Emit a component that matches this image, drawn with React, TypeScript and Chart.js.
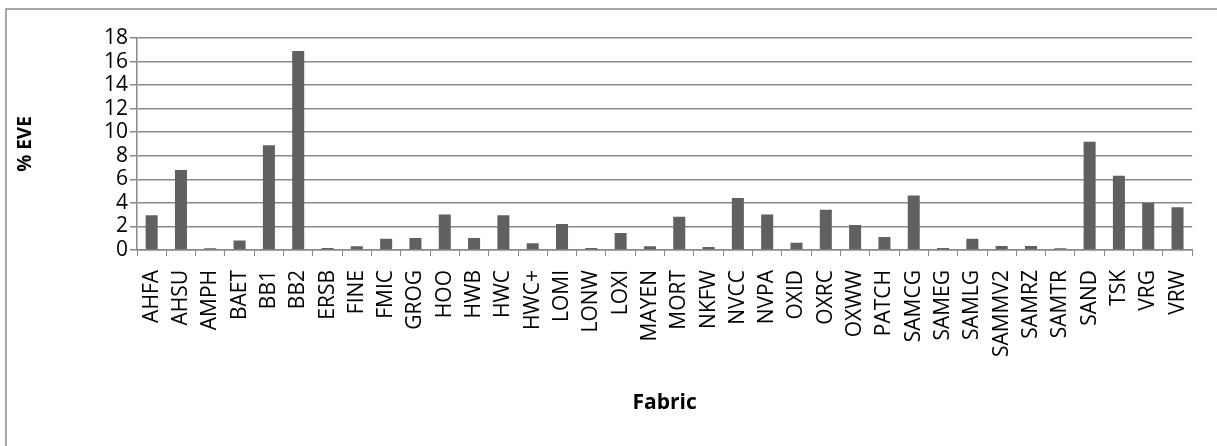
import React, { useEffect, useRef } from "react";
import { Chart, registerables } from "chart.js";

Chart.register(...registerables);

const categories = [
  "AHFA", "AHSU", "AMPH", "BAET", "BB1", "BB2", "ERSB", "FINE", "FMIC", "GROG",
  "HOO", "HWB", "HWC", "HWC+", "LOMI", "LONW", "LOXI", "MAYEN", "MORT", "NKFW",
  "NVCC", "NVPA", "OXID", "OXRC", "OXWW", "PATCH", "SAMCG", "SAMEG", "SAMLG",
  "SAMMV2", "SAMRZ", "SAMTR", "SAND", "TSK", "VRG", "VRW",
];

const eveValues = [
  2.95, 6.8, 0.15, 0.8, 8.9, 16.9, 0.17, 0.31, 0.95, 1.02,
  3.02, 1.02, 2.95, 0.57, 2.2, 0.17, 1.44, 0.31, 2.82, 0.25,
  4.42, 3.02, 0.62, 3.42, 2.12, 1.1, 4.62, 0.17, 0.95,
  0.34, 0.34, 0.14, 9.2, 6.3, 3.98, 3.64,
];

const yTicks = [0, 2, 4, 6, 8, 10, 12, 14, 16, 18];

const FONT = "'Open Sans', 'Liberation Sans', sans-serif";
const GRID = "#898989";

const framePlugin = {
  id: "frame",
  afterDraw(chart: any) {
    const ctx = chart.ctx;
    ctx.save();
    ctx.strokeStyle = "#8c8c8c";
    ctx.lineWidth = 1.5;
    ctx.beginPath();
    ctx.moveTo(6, 446);
    ctx.lineTo(6, 9);
    ctx.lineTo(1217, 9);
    ctx.stroke();
    ctx.restore();
  },
};

export default function App() {
  const ref = useRef<HTMLCanvasElement | null>(null);

  useEffect(() => {
    document.body.style.margin = "0";
    const canvas = ref.current;
    if (!canvas) return;
    const chart = new Chart(canvas, {
      type: "bar",
      data: {
        labels: categories,
        datasets: [
          {
            label: "% EVE",
            data: eveValues,
            backgroundColor: "#606060",
            borderWidth: 0,
            categoryPercentage: 1,
            barPercentage: 0.41,
          },
        ],
      },
      options: {
        responsive: false,
        animation: false,
        devicePixelRatio: 1,
        layout: { padding: { left: 6, top: 38, right: 19, bottom: 30 } },
        plugins: {
          legend: { display: false },
          tooltip: { enabled: false },
        },
        scales: {
          x: {
            afterFit: (s: any) => {
              s.height = 166;
            },
            grid: {
              display: true,
              drawOnChartArea: false,
              drawTicks: true,
              tickLength: 6,
              color: GRID,
              offset: true,
            },
            border: { display: true, color: GRID, width: 1.5 },
            ticks: {
              autoSkip: false,
              minRotation: 90,
              maxRotation: 90,
              padding: 14,
              color: "#000",
              font: { family: FONT, size: 21 },
            },
            title: {
              display: true,
              text: "Fabric",
              color: "#000",
              padding: { top: 0, bottom: 0 },
              font: { family: FONT, size: 21, weight: "bold", lineHeight: 1.2 },
            },
          },
          y: {
            min: 0,
            max: 18,
            afterFit: (s: any) => {
              s.width = 131;
            },
            afterBuildTicks: (s: any) => {
              s.ticks = yTicks.map((v) => ({ value: v }));
            },
            grid: {
              color: GRID,
              lineWidth: 1.5,
              tickLength: 7,
              drawTicks: true,
            },
            border: { display: true, color: GRID, width: 1.5 },
            ticks: {
              autoSkip: false,
              padding: 2,
              color: "#000",
              font: { family: FONT, size: 21 },
            },
            title: {
              display: true,
              text: "% EVE",
              color: "#000",
              padding: { top: 8, bottom: 0 },
              font: { family: FONT, size: 19, weight: "bold", lineHeight: 1.2 },
            },
          },
        },
      },
      plugins: [framePlugin],
    });
    return () => chart.destroy();
  }, []);

  return (
    <div style={{ width: 1217, height: 446, background: "#fff" }}>
      <canvas ref={ref} width={1217} height={446} />
    </div>
  );
}
